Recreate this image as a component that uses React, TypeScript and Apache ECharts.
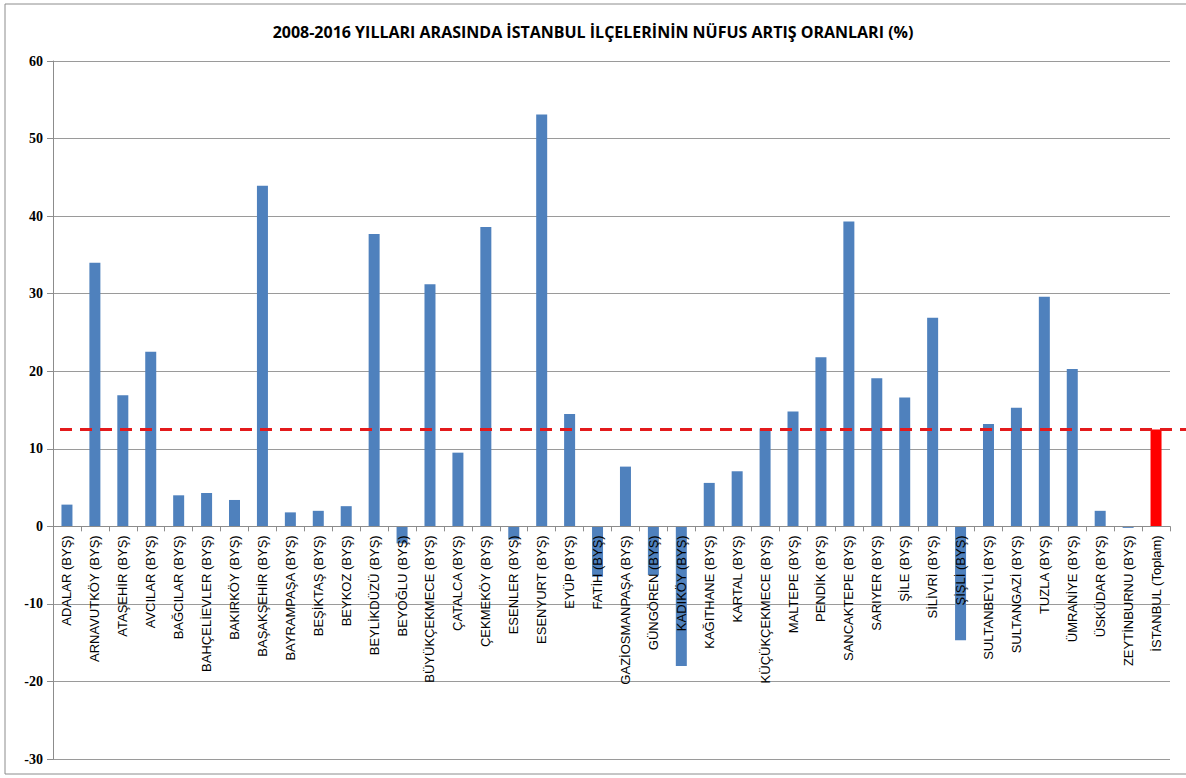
import React, { useEffect, useRef } from "react";
import * as echarts from "echarts";

const TITLE = "2008-2016 YILLARI ARASINDA İSTANBUL İLÇELERİNİN NÜFUS ARTIŞ ORANLARI (%)";

const categories = [
  "ADALAR (BYŞ)", "ARNAVUTKÖY (BYŞ)", "ATAŞEHİR (BYŞ)", "AVCILAR (BYŞ)", "BAĞCILAR (BYŞ)",
  "BAHÇELİEVLER (BYŞ)", "BAKIRKÖY (BYŞ)", "BAŞAKŞEHİR (BYŞ)", "BAYRAMPAŞA (BYŞ)", "BEŞİKTAŞ (BYŞ)",
  "BEYKOZ (BYŞ)", "BEYLİKDÜZÜ (BYŞ)", "BEYOĞLU (BYŞ)", "BÜYÜKÇEKMECE (BYŞ)", "ÇATALCA (BYŞ)",
  "ÇEKMEKÖY (BYŞ)", "ESENLER (BYŞ)", "ESENYURT (BYŞ)", "EYÜP (BYŞ)", "FATİH (BYŞ)",
  "GAZİOSMANPAŞA (BYŞ)", "GÜNGÖREN (BYŞ)", "KADIKÖY (BYŞ)", "KAĞITHANE (BYŞ)", "KARTAL (BYŞ)",
  "KÜÇÜKÇEKMECE (BYŞ)", "MALTEPE (BYŞ)", "PENDİK (BYŞ)", "SANCAKTEPE (BYŞ)", "SARIYER (BYŞ)",
  "ŞİLE (BYŞ)", "SİLİVRİ (BYŞ)", "ŞİŞLİ (BYŞ)", "SULTANBEYLİ (BYŞ)", "SULTANGAZİ (BYŞ)",
  "TUZLA (BYŞ)", "ÜMRANİYE (BYŞ)", "ÜSKÜDAR (BYŞ)", "ZEYTİNBURNU (BYŞ)", "İSTANBUL (Toplam)",
];

const values = [
  2.8, 34.0, 16.9, 22.5, 4.0,
  4.3, 3.4, 43.9, 1.8, 2.0,
  2.6, 37.7, -2.2, 31.2, 9.5,
  38.6, -1.7, 53.1, 14.5, -6.5,
  7.7, -6.3, -18.0, 5.6, 7.1,
  12.6, 14.8, 21.8, 39.3, 19.1,
  16.6, 26.9, -14.7, 13.2, 15.3,
  29.6, 20.3, 2.0, -0.2, 12.5,
];

const TOTAL_INDEX = 39;
const AVERAGE = 12.5;

const Y_MIN = -30;
const Y_MAX = 60;
const Y_STEP = 10;

const W = 1186;
const H = 778;
const GRID_TOP = 61;
const GRID_BOTTOM = 19;

export default function App() {
  const ref = useRef<HTMLDivElement>(null);

  useEffect(() => {
    document.body.style.margin = "0";
    const chart = echarts.init(ref.current!, null, { renderer: "svg" });
    const barData = values.map((v, i) => ({
      value: v,
      itemStyle: { color: i === TOTAL_INDEX ? "#FF0000" : "#4F81BD" },
    }));
    const plotH = H - GRID_TOP - GRID_BOTTOM;
    // move category axis up to the value 0 line
    const zeroOffset = -plotH * (0 - Y_MIN) / (Y_MAX - Y_MIN);
    chart.setOption({
      animation: false,
      backgroundColor: "#ffffff",
      title: {
        text: TITLE,
        left: "center",
        top: 19,
        textStyle: {
          fontFamily: "Open Sans",
          fontWeight: "bold",
          fontSize: 16,
          color: "#000",
        },
      },
      graphic: [
        {
          type: "rect",
          shape: { x: 5, y: 4, width: 1190, height: 770 },
          style: { fill: "none", stroke: "#8c8c8c", lineWidth: 1 },
          silent: true,
        },
      ],
      grid: [
        { left: 53, right: 16, top: GRID_TOP, bottom: GRID_BOTTOM, outerBoundsMode: "none" },
        { left: 60, right: 0, top: GRID_TOP, bottom: GRID_BOTTOM, outerBoundsMode: "none" },
      ],
      xAxis: [
        {
          type: "category",
          gridIndex: 0,
          data: categories,
          position: "bottom",
          offset: zeroOffset,
          z: 4,
          axisLine: { onZero: false, lineStyle: { color: "#8c8c8c" } },
          axisTick: { show: true, length: 5, alignWithLabel: false, lineStyle: { color: "#8c8c8c" } },
          axisLabel: {
            interval: 0,
            rotate: 90,
            margin: 9,
            fontFamily: "Liberation Sans",
            fontSize: 13,
            color: "#000",
          },
          splitLine: { show: false },
        },
        {
          type: "value",
          gridIndex: 1,
          min: 0,
          max: 1,
          show: false,
        },
      ],
      yAxis: [
        {
          type: "value",
          gridIndex: 0,
          min: Y_MIN,
          max: Y_MAX,
          interval: Y_STEP,
          axisLine: { show: true, lineStyle: { color: "#8c8c8c" } },
          axisTick: { show: true, length: 6, lineStyle: { color: "#8c8c8c" } },
          axisLabel: {
            margin: 10,
            fontFamily: "Liberation Serif",
            fontWeight: "bold",
            fontSize: 14,
            color: "#000",
          },
          splitLine: { show: true, lineStyle: { color: "#9a9a9a", width: 1 } },
        },
        {
          type: "value",
          gridIndex: 1,
          min: Y_MIN,
          max: Y_MAX,
          interval: Y_STEP,
          show: false,
        },
      ],
      series: [
        {
          type: "bar",
          xAxisIndex: 0,
          yAxisIndex: 0,
          data: barData,
          barWidth: 11,
          z: 1,
        },
        {
          type: "line",
          xAxisIndex: 1,
          yAxisIndex: 1,
          data: [
            [0, AVERAGE],
            [1, AVERAGE],
          ],
          symbol: "none",
          lineStyle: { color: "#E31A1C", width: 3, type: [12, 8] },
          z: 5,
        },
      ],
    });
    return () => chart.dispose();
  }, []);

  return (
    <div
      ref={ref}
      style={{ position: "fixed", left: 0, top: 0, width: W, height: H }}
    />
  );
}
